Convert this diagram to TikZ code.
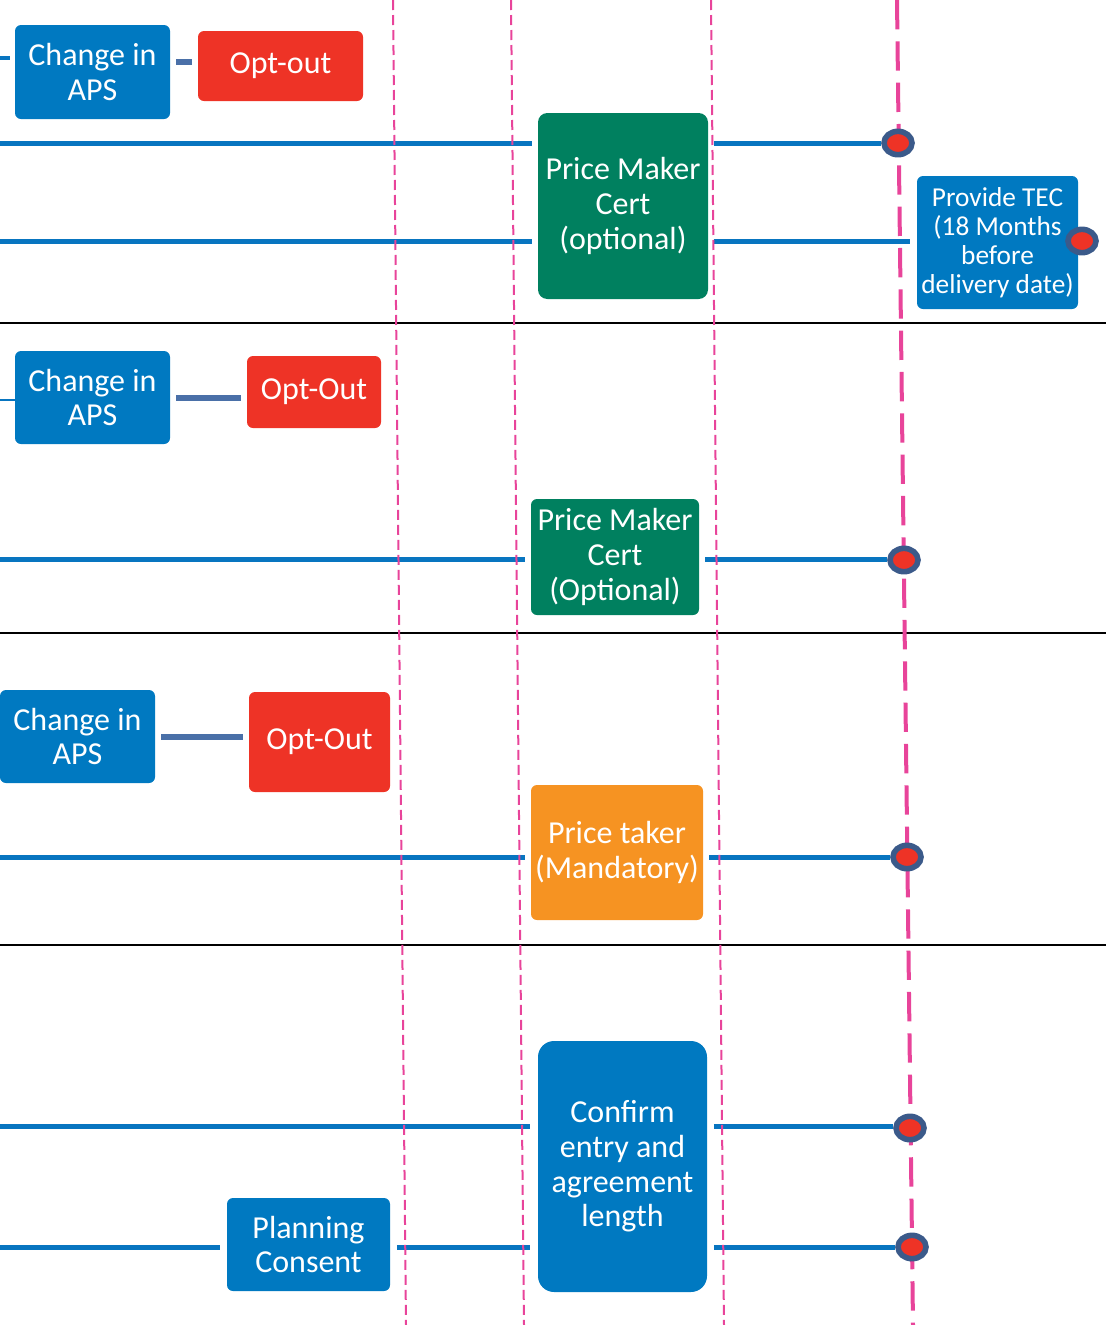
\documentclass[tikz,border=0pt]{standalone}
\usepackage{fontspec}
\setmainfont{Carlito}
\usetikzlibrary{shapes.geometric}

\definecolor{boxblue}{HTML}{0079C1}
\definecolor{boxgreen}{HTML}{00805F}
\definecolor{boxred}{HTML}{EE3326}
\definecolor{boxorange}{HTML}{F69322}
\definecolor{flowblue}{HTML}{0875C0}
\definecolor{linksteel}{HTML}{4A70A8}
\definecolor{guidepink}{HTML}{E8449A}
\definecolor{markrim}{HTML}{3B5A8A}
\definecolor{markfill}{HTML}{EE3326}

\pgfdeclarelayer{lines}
\pgfdeclarelayer{guides}
\pgfsetlayers{lines,guides,main}

\begin{document}
\begin{tikzpicture}[x=0.75pt,y=-0.75pt,
  box/.style={rectangle, rounded corners=4.5pt, text=white, align=center,
    inner sep=0pt, font=\fontsize{24}{26}\selectfont},
  sz/.style 2 args={minimum width=#1*0.75pt, minimum height=#2*0.75pt},
  flow/.style={draw=flowblue, line width=3.75pt},
  link/.style={draw=linksteel, line width=4.5pt, shorten <=4.5pt, shorten >=4.5pt},
  sepline/.style={draw=black, line width=1.5pt},
  guide/.style={draw=guidepink, line width=1.5pt, dash pattern=on 7.5pt off 3.75pt},
  deadline/.style={draw=guidepink, line width=3pt, dash pattern=on 22pt off 9pt},
  marker/.style={ellipse, draw=markrim, fill=markfill, line width=4.2pt,
    minimum width=21pt, minimum height=17.5pt, inner sep=0pt}]

\useasboundingbox (0,0) rectangle (1106,1325);

% ---------- boxes ----------
\node[box, fill=boxblue, sz={155}{94}] (aps1) at (92.5,72) {Change in\\APS};
\node[box, fill=boxred, sz={165}{70}] (opt1) at (280.5,66) {Opt-out};
\node[box, fill=boxgreen, sz={170}{186}, rounded corners=7pt] (pm1) at (623,206) {Price Maker\\Cert\\(optional)};
\node[box, fill=boxblue, sz={161}{133}, font=\fontsize{20.5}{21.75}\selectfont] (tec) at (997.5,242.5) {Provide TEC\\(18 Months\\before\\delivery date)};

\node[box, fill=boxblue, sz={155}{93}] (aps2) at (92.5,397.5) {Change in\\APS};
\node[box, fill=boxred, sz={134}{72}] (opt2) at (314,392) {Opt-Out};
\node[box, fill=boxgreen, sz={168}{116}] (pm2) at (615,557) {Price Maker\\Cert\\(Optional)};

\node[box, fill=boxblue, sz={155}{93}] (aps3) at (77.5,736.5) {Change in\\APS};
\node[box, fill=boxred, sz={141}{100}] (opt3) at (319.5,742) {Opt-Out};
\node[box, fill=boxorange, sz={172}{135}] (pt) at (617,852.5) {Price taker\\(Mandatory)};

\node[box, fill=boxblue, sz={169}{251}, rounded corners=12pt] (conf) at (622.5,1166.5) {Confirm\\entry and\\agreement\\length};
\node[box, fill=boxblue, sz={163}{93}] (plan) at (308.5,1244.5) {Planning\\Consent};

% ---------- milestone markers ----------
\node[marker] (m1) at (898,143) {};
\node[marker] (mt) at (1082,241) {};
\node[marker] (m2) at (904,560) {};
\node[marker] (m3) at (907,857) {};
\node[marker] (m4) at (910,1128) {};
\node[marker] (m5) at (912,1247) {};

% ---------- free ends on the left edge ----------
\coordinate (s1) at (0,58);
\coordinate (s2) at (0,400);
\coordinate (k1) at (0,62);
\coordinate (a1) at (0,143);
\coordinate (a2) at (0,241);
\coordinate (b1) at (0,559);
\coordinate (c1) at (0,857);
\coordinate (d1) at (0,1126);
\coordinate (d2) at (0,1247);

\begin{pgfonlayer}{lines}
  % stubs into the APS boxes
  \draw[flow, line width=3.5pt, shorten >=3.75pt] (s1) -- (s1 -| aps1.west);
  \draw[flow, line width=2pt] (s2) -- (s2 -| aps2.west);
  % APS to opt-out links
  \draw[link] (k1 -| aps1.east) -- (k1 -| opt1.west);
  \draw[link] (aps2.east) -- (aps2.east -| opt2.west);
  \draw[link] (aps3.east) -- (aps3.east -| opt3.west);
  % section 1 flows
  \draw[flow, shorten >=4.5pt] (a1) -- (a1 -| pm1.west);
  \draw[flow, shorten <=4.5pt] (a1 -| pm1.east) -- (m1);
  \draw[flow, shorten >=4.5pt] (a2) -- (a2 -| pm1.west);
  \draw[flow, shorten <=4.5pt, shorten >=5pt] (a2 -| pm1.east) -- (a2 -| tec.west);
  % section 2 flows
  \draw[flow, shorten >=4.5pt] (b1) -- (b1 -| pm2.west);
  \draw[flow, shorten <=4.5pt] (b1 -| pm2.east) -- (b1 -| m2.west);
  % section 3 flows
  \draw[flow, shorten >=4.5pt] (c1) -- (c1 -| pt.west);
  \draw[flow, shorten <=4.5pt] (c1 -| pt.east) -- (m3);
  % section 4 flows
  \draw[flow, shorten >=6pt] (d1) -- (d1 -| conf.west);
  \draw[flow, shorten <=5pt] (d1 -| conf.east) -- (d1 -| m4.west);
  \draw[flow, shorten >=5pt] (d2) -- (d2 -| plan.west);
  \draw[flow, shorten <=5pt, shorten >=6pt] (d2 -| plan.east) -- (d2 -| conf.west);
  \draw[flow, shorten <=5pt] (d2 -| conf.east) -- (m5);
  % section separators
  \draw[sepline] (0,323) -- (1106,323);
  \draw[sepline] (0,633) -- (1106,633);
  \draw[sepline] (0,945) -- (1106,945);
\end{pgfonlayer}

\begin{pgfonlayer}{guides}
  \draw[guide] (393,0) -- (406,1325);
  \draw[guide] (511,0) -- (524,1325);
  \draw[guide] (711,0) -- (724,1325);
  \draw[deadline] (897,0) -- (913,1325);
\end{pgfonlayer}

\end{tikzpicture}
\end{document}
